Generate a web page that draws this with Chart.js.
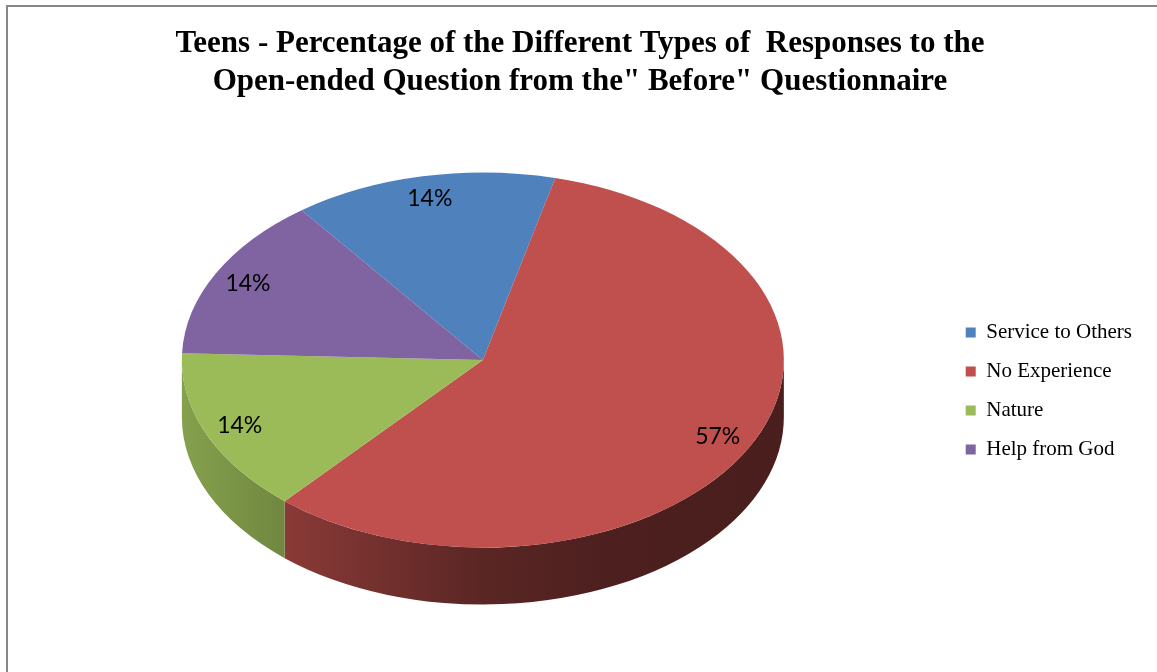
<!DOCTYPE html>
<html>
<head>
<meta charset="utf-8">
<script src="https://cdn.jsdelivr.net/npm/chart.js@4.4.1/dist/chart.umd.min.js"></script>
<style>
  html, body { margin: 0; padding: 0; background: #fff; }
  #wrap { position: relative; width: 1157px; height: 672px; overflow: hidden; }
  #frame { position: absolute; left: 6px; top: 5px; width: 1200px; height: 700px;
           border-left: 2px solid #878787; border-top: 2px solid #878787; }
  #pie { position: absolute; left: 0; top: 0; }
</style>
</head>
<body>
<div id="wrap">
  <div id="frame"></div>
  <canvas id="pie" width="1157" height="672"></canvas>
</div>
<script>
const categories = ['Service to Others', 'No Experience', 'Nature', 'Help from God'];
const percentages = [14, 57, 14, 14];
const sliceColors = ['#4F81BD', '#C0504D', '#9BBB59', '#8064A2'];
const titleLines = [
  'Teens - Percentage of the Different Types of  Responses to the',
  'Open-ended Question from the" Before" Questionnaire'
];

// darken a hex colour by a factor
function shade(hex, f) {
  const n = parseInt(hex.slice(1), 16);
  const r = Math.round(((n >> 16) & 255) * f);
  const g = Math.round(((n >> 8) & 255) * f);
  const b = Math.round((n & 255) * f);
  return 'rgb(' + r + ',' + g + ',' + b + ')';
}

// tilted pie: side walls first, then squash the top face into an ellipse
const pie3d = {
  id: 'pie3d',
  beforeDatasetsDraw(chart, args, opts) {
    const ctx = chart.ctx;
    const meta = chart.getDatasetMeta(0);
    const first = meta.data[0];
    const cx = first.x, cy = first.y, r = first.outerRadius;
    const k = opts.tilt, depth = opts.depth;

    meta.data.forEach((arc, i) => {
      const base = sliceColors[i];
      // only the front half (0..PI) of each slice shows its wall
      for (let n = -1; n <= 1; n++) {
        const lo = Math.max(arc.startAngle, n * 2 * Math.PI);
        const hi = Math.min(arc.endAngle, n * 2 * Math.PI + Math.PI);
        if (hi <= lo) continue;
        const grad = ctx.createLinearGradient(cx - r, 0, cx + r, 0);
        grad.addColorStop(0, shade(base, 0.86));
        grad.addColorStop(0.17, shade(base, 0.72));
        grad.addColorStop(0.5, shade(base, 0.47));
        grad.addColorStop(0.7, shade(base, 0.40));
        grad.addColorStop(1, shade(base, 0.38));
        ctx.save();
        ctx.beginPath();
        ctx.ellipse(cx, cy, r, r * k, 0, lo, hi);
        ctx.ellipse(cx, cy + depth, r, r * k, 0, hi, lo, true);
        ctx.closePath();
        ctx.fillStyle = grad;
        ctx.fill();
        ctx.restore();
      }
    });

    ctx.save();
    ctx.translate(cx, cy);
    ctx.scale(1, k);
    ctx.translate(-cx, -cy);
  },
  afterDatasetsDraw(chart, args, opts) {
    const ctx = chart.ctx;
    ctx.restore();
    const meta = chart.getDatasetMeta(0);
    ctx.save();
    ctx.font = '23px Lato';
    ctx.fillStyle = '#000';
    ctx.textAlign = 'center';
    ctx.textBaseline = 'middle';
    meta.data.forEach((arc, i) => {
      const mid = (arc.startAngle + arc.endAngle) / 2;
      const d = arc.outerRadius * opts.labelAt;
      const x = arc.x + Math.cos(mid) * d;
      const y = arc.y + Math.sin(mid) * d * opts.tilt;
      ctx.fillText(percentages[i] + '%', x, y);
    });
    ctx.restore();
  }
};

new Chart(document.getElementById('pie'), {
  type: 'pie',
  data: {
    labels: categories,
    datasets: [{
      data: percentages,
      backgroundColor: sliceColors,
      borderWidth: 0,
      radius: 301,
      clip: false
    }]
  },
  options: {
    responsive: false,
    animation: false,
    events: [],
    rotation: -37,
    layout: { padding: { left: 18, right: 15, top: 0, bottom: 62 } },
    plugins: {
      pie3d: { tilt: 0.623, depth: 57, labelAt: 0.88 },
      tooltip: { enabled: false },
      title: {
        display: true,
        text: titleLines,
        color: '#000',
        font: { family: 'Liberation Serif', size: 31, weight: 'bold', lineHeight: 38 / 31 },
        padding: { top: 25, bottom: 9 }
      },
      legend: {
        position: 'right',
        // empty title just pushes the entries down
        title: { display: true, text: '', font: { size: 10, lineHeight: 1 }, padding: { top: 162, bottom: 0 } },
        labels: {
          boxWidth: 10,
          boxHeight: 10,
          padding: 18,
          color: '#000',
          font: { family: 'Liberation Serif', size: 21 }
        }
      }
    }
  },
  plugins: [pie3d]
});
</script>
</body>
</html>
